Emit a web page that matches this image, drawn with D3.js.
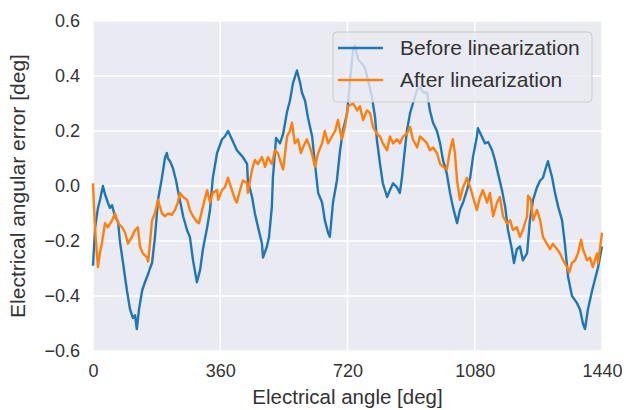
<!DOCTYPE html>
<html>
<head>
<meta charset="utf-8">
<script src="https://cdn.jsdelivr.net/npm/d3@7"></script>
<style>
  body { margin: 0; background: #fff; }
  text { font-family: "Liberation Sans", Arial, sans-serif; fill: #333; }
</style>
</head>
<body>
<div id="chart"></div>
<script>
// values
const xTicks = [0, 360, 720, 1080, 1440];
const yTicks = [-0.6, -0.4, -0.2, 0.0, 0.2, 0.4, 0.6];
const seriesNames = ["Before linearization", "After linearization"];

const beforeAngle = [0, 6, 14, 20, 28, 34, 42, 48, 54, 62, 71, 76, 85, 96, 105, 113, 119, 124, 130, 139,
  147, 156, 161, 167, 175, 184, 195, 204, 209, 212, 218, 226, 235, 240, 255, 266, 274, 283, 294, 303,
  311, 323, 331, 339, 351, 365, 373, 382, 393, 407, 424, 436, 438, 450, 458, 467, 478, 481, 492, 498,
  506, 509, 518, 529, 538, 549, 557, 566, 577, 586, 591, 600, 608, 620, 628, 637, 648, 656, 665, 670,
  679, 690, 699, 707, 719, 727, 736, 741, 750, 761, 769, 778, 789, 798, 803, 812, 820, 832, 840, 849,
  860, 868, 874, 880, 888, 897, 905, 917, 925, 934, 945, 953, 962, 973, 982, 990, 1001, 1010, 1018, 1030,
  1038, 1047, 1058, 1067, 1075, 1086, 1089, 1100, 1109, 1118, 1129, 1137, 1146, 1157, 1166, 1174, 1185, 1191, 1199, 1208,
  1216, 1228, 1236, 1245, 1256, 1265, 1273, 1282, 1287, 1299, 1307, 1316, 1327, 1335, 1344, 1355, 1369, 1378, 1386, 1392,
  1400, 1412, 1420, 1429, 1440];
const beforeError = [-0.29, -0.15, -0.08, -0.05, 0.0, -0.03, -0.06, -0.08, -0.07, -0.11, -0.13, -0.2, -0.28, -0.38, -0.45, -0.48, -0.47, -0.52, -0.45, -0.38,
  -0.35, -0.32, -0.3, -0.28, -0.19, -0.05, 0.03, 0.105, 0.12, 0.1, 0.09, 0.065, 0.02, -0.015, -0.11, -0.16, -0.185, -0.27, -0.35, -0.305,
  -0.23, -0.15, -0.087, 0.03, 0.12, 0.17, 0.18, 0.2, 0.17, 0.13, 0.105, 0.08, 0.02, -0.04, -0.1, -0.15, -0.21, -0.26, -0.22, -0.185,
  -0.075, 0.03, 0.175, 0.155, 0.19, 0.27, 0.31, 0.375, 0.42, 0.375, 0.34, 0.31, 0.25, 0.18, 0.08, -0.025, -0.06, -0.125, -0.17, -0.185,
  -0.06, 0.02, 0.13, 0.2, 0.265, 0.385, 0.495, 0.51, 0.46, 0.445, 0.43, 0.385, 0.325, 0.25, 0.17, 0.08, 0.01, -0.04, -0.015, 0.01,
  -0.005, -0.025, 0.03, 0.105, 0.2, 0.265, 0.3, 0.35, 0.36, 0.34, 0.34, 0.275, 0.23, 0.2, 0.155, 0.095, 0.045, -0.025, -0.075, -0.135,
  -0.087, -0.06, -0.015, 0.03, 0.105, 0.18, 0.21, 0.18, 0.155, 0.16, 0.13, 0.095, 0.045, -0.015, -0.075, -0.16, -0.23, -0.28, -0.23, -0.22,
  -0.27, -0.245, -0.125, -0.05, -0.005, 0.02, 0.03, 0.07, 0.09, 0.03, -0.025, -0.075, -0.125, -0.21, -0.33, -0.4, -0.425, -0.45, -0.5, -0.52,
  -0.45, -0.38, -0.34, -0.295, -0.22];

const afterAngle = [0, 6, 14, 20, 25, 34, 42, 54, 62, 71, 82, 91, 99, 110, 119, 127, 133, 141, 153, 156,
  161, 167, 175, 184, 195, 204, 212, 223, 232, 240, 246, 255, 266, 274, 283, 294, 300, 311, 323, 331,
  339, 351, 354, 365, 373, 382, 393, 402, 407, 416, 424, 436, 438, 450, 458, 467, 478, 487, 495, 506,
  515, 523, 535, 538, 549, 557, 563, 571, 580, 588, 594, 605, 614, 622, 628, 637, 648, 656, 665, 676,
  685, 693, 704, 713, 721, 736, 747, 755, 764, 775, 784, 792, 803, 812, 820, 832, 840, 849, 860, 868,
  877, 888, 897, 905, 917, 925, 934, 945, 953, 962, 973, 982, 990, 1001, 1010, 1018, 1024, 1030, 1038, 1047,
  1058, 1067, 1075, 1086, 1095, 1103, 1115, 1123, 1132, 1143, 1151, 1160, 1171, 1180, 1188, 1199, 1208, 1216, 1228, 1231,
  1239, 1245, 1256, 1265, 1273, 1284, 1293, 1301, 1313, 1321, 1330, 1341, 1347, 1355, 1364, 1372, 1381, 1386, 1398, 1406,
  1414, 1426, 1429, 1440];
const afterError = [0.01, -0.16, -0.295, -0.24, -0.21, -0.135, -0.15, -0.125, -0.1, -0.135, -0.15, -0.17, -0.21, -0.185, -0.16, -0.15, -0.22, -0.245, -0.26, -0.275,
  -0.21, -0.125, -0.1, -0.05, -0.1, -0.11, -0.1, -0.105, -0.087, -0.06, -0.025, -0.04, -0.05, -0.087, -0.11, -0.13, -0.135, -0.075, -0.015, -0.06,
  -0.025, -0.015, -0.05, -0.015, -0.005, 0.03, -0.015, -0.05, -0.06, -0.015, 0.02, 0.01, -0.025, 0.06, 0.095, 0.08, 0.105, 0.07, 0.105, 0.08,
  0.13, 0.12, 0.07, 0.06, 0.18, 0.2, 0.23, 0.155, 0.17, 0.12, 0.14, 0.17, 0.14, 0.105, 0.07, 0.12, 0.155, 0.2, 0.155, 0.18,
  0.2, 0.24, 0.17, 0.215, 0.29, 0.3, 0.275, 0.29, 0.24, 0.275, 0.265, 0.215, 0.19, 0.18, 0.155, 0.13, 0.18, 0.155, 0.17, 0.155,
  0.18, 0.19, 0.215, 0.17, 0.14, 0.18, 0.17, 0.155, 0.13, 0.14, 0.12, 0.08, 0.07, 0.06, 0.13, 0.17, 0.12, 0.02, -0.05, -0.005,
  0.03, -0.005, -0.04, -0.087, -0.04, -0.015, -0.06, -0.025, -0.11, -0.06, -0.04, -0.11, -0.135, -0.125, -0.16, -0.15, -0.185, -0.16, -0.11, -0.035,
  -0.05, -0.125, -0.087, -0.125, -0.185, -0.21, -0.23, -0.21, -0.23, -0.245, -0.27, -0.295, -0.315, -0.28, -0.27, -0.245, -0.195, -0.23, -0.27, -0.26,
  -0.295, -0.245, -0.28, -0.17];

const margin = { top: 21, right: 24, bottom: 59, left: 93 };
const width = 626 - margin.left - margin.right;
const height = 410 - margin.top - margin.bottom;
const colors = ["#1f77b4", "#ff7f0e"];

const svg = d3.select("#chart")
  .append("svg")
  .attr("width", 626)
  .attr("height", 410);

const chart = svg.append("g")
  .attr("transform", `translate(${margin.left},${margin.top})`);

const xScale = d3.scaleLinear().domain([0, 1440]).range([0, width]);
const yScale = d3.scaleLinear().domain([-0.6, 0.6]).range([height, 0]);

chart.append("rect")
  .attr("width", width)
  .attr("height", height)
  .attr("fill", "#eaeaf2");

// grid
chart.append("g")
  .selectAll("line")
  .data(xTicks)
  .join("line")
  .attr("x1", d => xScale(d)).attr("x2", d => xScale(d))
  .attr("y1", 0).attr("y2", height)
  .attr("stroke", "#fff").attr("stroke-width", 1.5);

chart.append("g")
  .selectAll("line")
  .data(yTicks)
  .join("line")
  .attr("y1", d => yScale(d)).attr("y2", d => yScale(d))
  .attr("x1", 0).attr("x2", width)
  .attr("stroke", "#fff").attr("stroke-width", 1.5);

const xAxis = d3.axisBottom(xScale).tickValues(xTicks).tickSize(0).tickPadding(13)
  .tickFormat(d3.format("d"));
const yAxis = d3.axisLeft(yScale).tickValues(yTicks).tickSize(0).tickPadding(13)
  .tickFormat(d => d3.format(".1f")(d).replace("-", "\u2212"));

chart.append("g")
  .attr("class", "axis x-axis")
  .attr("transform", `translate(0,${height})`)
  .call(xAxis);
chart.append("g")
  .attr("class", "axis y-axis")
  .call(yAxis);

chart.selectAll(".axis .domain").remove();
chart.selectAll(".axis text")
  .attr("font-size", 18)
  .attr("font-family", "Liberation Sans, Arial, sans-serif")
  .attr("fill", "#333");

// lines
const line = d3.line()
  .x(d => xScale(d[0]))
  .y(d => yScale(d[1]));

const series = [
  d3.zip(beforeAngle, beforeError),
  d3.zip(afterAngle, afterError)
];

chart.selectAll(".series")
  .data(series)
  .join("path")
  .attr("class", "series")
  .attr("d", line)
  .attr("fill", "none")
  .attr("stroke", (d, i) => colors[i])
  .attr("stroke-width", 2.4)
  .attr("stroke-linejoin", "round");

// legend
const legend = svg.append("g").attr("transform", "translate(333,32)");
legend.append("rect")
  .attr("width", 259).attr("height", 70)
  .attr("rx", 4)
  .attr("fill", "#eaeaf2").attr("fill-opacity", 0.8)
  .attr("stroke", "#cccccc").attr("stroke-width", 1);

seriesNames.forEach((name, i) => {
  const y = 16 + i * 32;
  legend.append("line")
    .attr("x1", 5).attr("x2", 50)
    .attr("y1", y).attr("y2", y)
    .attr("stroke", colors[i]).attr("stroke-width", 2.4);
  legend.append("text")
    .attr("x", 67).attr("y", y)
    .attr("dy", "0.35em")
    .attr("font-size", 21)
    .text(name);
});

// axis labels
svg.append("text")
  .attr("x", margin.left + width / 2)
  .attr("y", 404)
  .attr("text-anchor", "middle")
  .attr("font-size", 20.5)
  .text("Electrical angle [deg]");

svg.append("text")
  .attr("transform", `translate(25,${margin.top + height / 2}) rotate(-90)`)
  .attr("text-anchor", "middle")
  .attr("font-size", 21)
  .text("Electrical angular error [deg]");
</script>
</body>
</html>
